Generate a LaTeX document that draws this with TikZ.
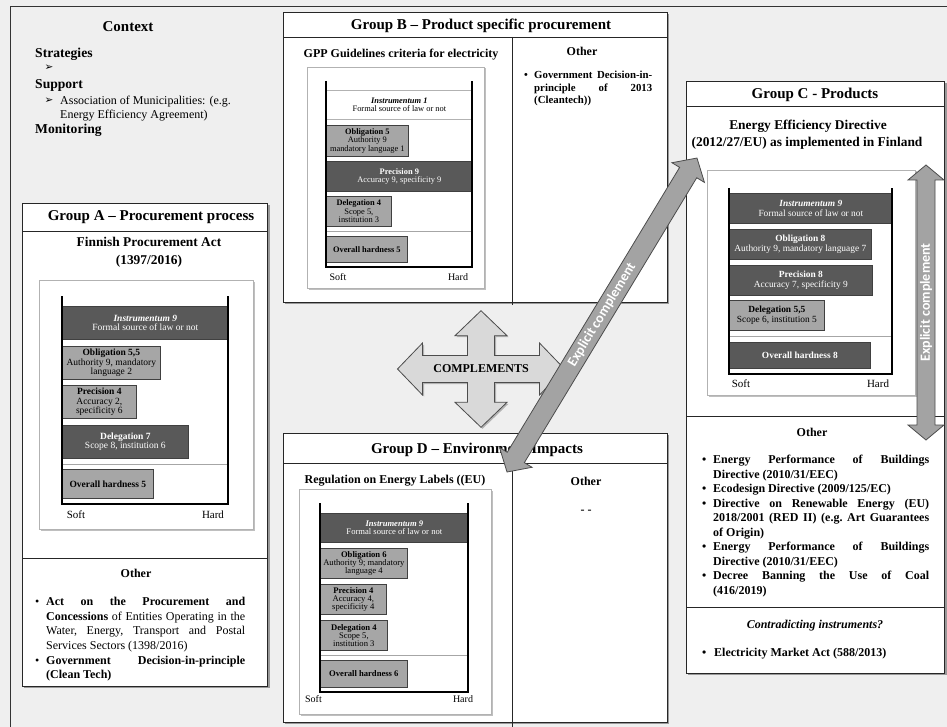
\documentclass[tikz,border=0pt]{standalone}
\usepackage{fontspec}
\setmainfont{Liberation Serif}
\newfontfamily\calib{Carlito}
\newfontfamily\djv{DejaVu Sans}
\usetikzlibrary{calc}
\definecolor{bgc}{HTML}{EFEFEF}
\definecolor{darkbar}{HTML}{595959}
\definecolor{lightbar}{HTML}{A6A6A6}
\definecolor{ecfill}{HTML}{A3A3A3}
\definecolor{cmpfill}{HTML}{D9D9D9}
\tikzset{
  every node/.append style={inner sep=0pt},
  grp/.style={draw=black!85, line width=0.9pt, fill=white},
  grpline/.style={draw=black!85, line width=0.9pt},
  shd/.style={fill=black!40},
  frm/.style={draw=black!30, line width=0.9pt, fill=white},
  frmshd/.style={fill=black!25},
  axisl/.style={draw=black, line width=1.2pt},
  sepl/.style={draw=black!35, line width=0.6pt},
  barbase/.style={anchor=north west, align=center, line width=0.7pt, draw=black!75},
  dbar/.style={barbase, fill=darkbar, text=white},
  lbar/.style={barbase, fill=lightbar, text=black},
  wbar/.style={barbase, fill=white, draw=black!30, text=black},
  chA/.style={font=\fontsize{9.5}{9.4}\selectfont},
  chB/.style={font=\fontsize{8.4}{8.4}\selectfont},
  chC/.style={font=\fontsize{9.4}{10}\selectfont},
  chD/.style={font=\fontsize{8.6}{8}\selectfont},
  gtitle/.style={anchor=base, font=\bfseries\fontsize{15}{18}\selectfont},
  subt/.style={anchor=base, font=\bfseries\fontsize{12}{14.5}\selectfont},
  subtl/.style={anchor=base, font=\bfseries\fontsize{13.4}{18}\selectfont},
  othert/.style={anchor=base, font=\bfseries\fontsize{12}{14.5}\selectfont},
  softl/.style={anchor=center, font=\fontsize{11}{12}\selectfont},
  softs/.style={anchor=center, font=\fontsize{10}{12}\selectfont},
  ctxh/.style={anchor=base west, font=\bfseries\fontsize{13.6}{16}\selectfont},
  ctxt/.style={anchor=base west, font=\fontsize{12}{14}\selectfont},
  arrb/.style={font=\djv\fontsize{10.5}{12}\selectfont},
  ecarrow/.style={fill=ecfill, draw=black!70, line width=0.8pt},
  ectext/.style={text=white, font=\calib\bfseries\fontsize{14}{16}\selectfont},
  cmparrow/.style={fill=cmpfill, draw=black!70, line width=0.8pt},
  blist/.style={anchor=north west, align=justify},
}
\newcommand\mkbar[7]{\node[#1, minimum width={#5-#3}, minimum height={#6-#4}] (#2) at (#3,#4) {#7};}
\newcommand\grpbox[4]{\fill[shd] (#1+2,#2+2) rectangle (#3+2,#4+2); \draw[grp] (#1,#2) rectangle (#3,#4);}
\newcommand\frmbox[4]{\fill[frmshd] (#1+1.5,#2+1.5) rectangle (#3+1.5,#4+1.5); \draw[frm] (#1,#2) rectangle (#3,#4);}
\newcommand\bitem[1]{\par\noindent\hangindent=11pt\hangafter=1\strut\makebox[11pt][l]{\textbullet}#1\par}
\newcommand\bitemB[1]{\par\noindent\hangindent=10pt\hangafter=1\strut\makebox[10pt][l]{\textbullet}#1\par}
\newcommand\dblarrow[5]{%
  \path let \p1=($(#2)-(#1)$), \n1={atan2(\y1,\x1)}, \n2={veclen(\x1,\y1)} in
    \pgfextra{\xdef\arrAng{\n1}\xdef\arrLen{\n2}};
  \begin{scope}[shift={(#1)}, rotate=\arrAng, x=1pt, y=1pt]
    \draw[ecarrow] (0,0) -- (#5,#4) -- (#5,#3) -- (\arrLen-#5,#3) -- (\arrLen-#5,#4) -- (\arrLen,0)
      -- (\arrLen-#5,-#4) -- (\arrLen-#5,-#3) -- (#5,-#3) -- (#5,-#4) -- cycle;
  \end{scope}}
\begin{document}
\begin{tikzpicture}[x=1pt,y=-1pt]
\useasboundingbox (0,0) rectangle (947,727);
\fill[bgc] (0,0) rectangle (947,727);
\draw[black!80, line width=1pt] (10,727) -- (10,7) -- (947,7);

% ---------------- Context
\node[anchor=base, font=\bfseries\fontsize{15}{18}\selectfont] (ctx) at (128,32) {Context};
\node[ctxh] (strat) at (35,58) {Strategies};
\node[arrb] (bul1) at (49,68) {➢};
\node[ctxh] (supp) at (35,89) {Support};
\node[arrb] (bul2) at (49,101) {➢};
\node[ctxt] (assoc) at (60,104.5) {Association of Municipalities: (e.g.};
\node[ctxt] (eea) at (60,119) {Energy Efficiency Agreement)};
\node[ctxh] (mon) at (35,133.5) {Monitoring};

% ---------------- Group A
\grpbox{22}{203}{267.5}{686}
\draw[grpline] (22,231) -- (267.5,231);
\draw[grpline] (22,558) -- (267.5,558);
\node[gtitle] (gA) at (151,221) {Group A -- Procurement process};
\node[subtl] (gAs1) at (149,246.5) {Finnish Procurement Act};
\node[subtl] (gAs2) at (149,264.5) {(1397/2016)};
\frmbox{39}{280}{253}{529}
\mkbar{dbar,chA}{a1}{62}{306}{228}{339}{\textbf{\textit{Instrumentum 9}}\\Formal source of law or not}
\mkbar{lbar,chA}{a2}{62}{346}{160}{379}{\textbf{Obligation 5,5}\\Authority 9, mandatory\\language 2}
\mkbar{lbar,chA}{a3}{62}{385}{136}{418}{\textbf{Precision 4}\\Accuracy 2,\\specificity 6}
\mkbar{dbar,chA}{a4}{62}{425}{188}{458}{\textbf{Delegation 7}\\Scope 8, institution 6}
\draw[sepl] (62,464) -- (228,464);
\mkbar{lbar,chA}{a5}{62}{469}{153}{498}{\textbf{Overall hardness 5}}
\draw[axisl] (62,296) -- (62,504) -- (228,504) -- (228,296);
\node[softl] (aSoft) at (76,515) {Soft};
\node[softl] (aHard) at (213,515) {Hard};
\node[othert] (aOth) at (136,577.5) {Other};
\node[blist, text width=210, font=\fontsize{12}{14.6}\selectfont] (aList) at (35,590.8) {%
  \tolerance=10000\frenchspacing
  \bitem{\textbf{Act on the Procurement and}\linebreak \textbf{Concessions} of Entities Operating in the\linebreak Water, Energy, Transport and Postal\linebreak Services Sectors (1398/2016)}
  \bitem{\textbf{Government Decision-in-principle}\linebreak \textbf{(Clean Tech)}}};

% ---------------- Group B
\grpbox{283}{12}{667}{302}
\draw[grpline] (283,37) -- (667,37);
\draw[grpline] (512,37) -- (512,305);
\node[gtitle] (gB) at (481,29.5) {Group B -- Product specific procurement};
\node[subt] (gBs) at (401,57.5) {GPP Guidelines criteria for electricity};
\node[othert] (bOth) at (582,56) {Other};
\frmbox{307}{67}{484}{288}
\mkbar{wbar,chB}{b1}{326}{90}{472}{119}{\textbf{\textit{Instrumentum 1}}\\Formal source of law or not}
\mkbar{lbar,chB}{b2}{326}{125}{408}{156}{\textbf{Obligation 5}\\Authority 9\\mandatory language 1}
\mkbar{dbar,chB}{b3}{326}{161}{472}{191}{\textbf{Precision 9}\\Accuracy 9, specificity 9}
\mkbar{lbar,chB}{b4}{326}{196}{391}{226}{\textbf{Delegation 4}\\Scope 5,\\institution 3}
\draw[sepl] (326,231) -- (472,231);
\mkbar{lbar,chB}{b5}{326}{236}{407}{262}{\textbf{Overall hardness 5}}
\draw[axisl] (326,81) -- (326,267) -- (472,267) -- (472,81);
\node[softs] (bSoft) at (338,277) {Soft};
\node[softs] (bHard) at (458,277) {Hard};
\node[blist, text width=128, font=\bfseries\fontsize{10.8}{12.5}\selectfont] (bList) at (524,66.3) {%
  \tolerance=10000\frenchspacing
  \bitemB{Government Decision-in-\linebreak principle of 2013\linebreak (Cleantech))}};

% ---------------- Group C
\grpbox{686}{81}{944.5}{673}
\draw[grpline] (686,106) -- (944.5,106);
\draw[grpline] (686,416) -- (944.5,416);
\draw[grpline] (686,607) -- (944.5,607);
\node[gtitle] (gC) at (815,99) {Group C - Products};
\node[subtl] (gCs1) at (808,130) {Energy Efficiency Directive};
\node[subtl] (gCs2) at (807,146.7) {(2012/27/EU) as implemented in Finland};
\frmbox{707}{170}{915}{395}
\mkbar{dbar,chC}{c1}{729}{193}{892}{223}{\textbf{\textit{Instrumentum 9}}\\Formal source of law or not}
\mkbar{dbar,chC}{c2}{729}{229}{871}{259}{\textbf{Obligation 8}\\Authority 9, mandatory language 7}
\mkbar{dbar,chC}{c3}{729}{265}{872}{295}{\textbf{Precision 8}\\Accuracy 7, specificity 9}
\mkbar{lbar,chC}{c4}{729}{300}{824}{330}{\textbf{Delegation 5,5}\\Scope 6, institution 5}
\draw[sepl] (729,336) -- (892,336);
\mkbar{dbar,chC}{c5}{729}{342}{870}{368}{\textbf{Overall hardness 8}}
\draw[axisl] (729,188) -- (729,374) -- (892,374) -- (892,188);
\node[softl] (cSoft) at (741,384) {Soft};
\node[softl] (cHard) at (878,384) {Hard};
\node[othert] (cOth) at (812,436) {Other};
\node[blist, text width=227, font=\bfseries\fontsize{12}{14.5}\selectfont] (cList) at (702,448.8) {%
  \tolerance=10000\frenchspacing
  \bitem{Energy Performance of Buildings\linebreak Directive (2010/31/EEC)}
  \bitem{Ecodesign Directive (2009/125/EC)}
  \bitem{Directive on Renewable Energy (EU)\linebreak 2018/2001 (RED II) (e.g. Art Guarantees\linebreak of Origin)}
  \bitem{Energy Performance of Buildings\linebreak Directive (2010/31/EEC)}
  \bitem{Decree Banning the Use of Coal\linebreak (416/2019)}};
\node[anchor=base, font=\bfseries\itshape\fontsize{12}{14.5}\selectfont] (cContra) at (815,628.3) {Contradicting instruments?};
\node[anchor=base west, font=\bfseries\fontsize{12}{14.5}\selectfont] (cElec) at (702,656.7) {\makebox[12pt][l]{\textbullet}Electricity Market Act (588/2013)};

% ---------------- Group D
\grpbox{283}{433}{667}{722}
\draw[grpline] (283,463) -- (667,463);
\draw[grpline] (512,463) -- (512,727);
\node[gtitle] (gD) at (477,453) {Group D -- Environment Impacts};
\node[subt] (gDs) at (395,483.5) {Regulation on Energy Labels ((EU)};
\node[othert] (dOth) at (586,485) {Other};
\node[anchor=center, font=\bfseries\fontsize{12}{14}\selectfont] (dDash) at (586,512) {- -};
\frmbox{299}{489}{491}{714}
\mkbar{dbar,chD}{d1}{320}{513}{468}{542}{\textbf{\textit{Instrumentum 9}}\\Formal source of law or not}
\mkbar{lbar,chD}{d2}{320}{548}{407}{578}{\textbf{Obligation 6}\\Authority 9; mandatory\\language 4}
\mkbar{lbar,chD}{d3}{320}{584}{386}{614}{\textbf{Precision 4}\\Accuracy 4,\\specificity 4}
\mkbar{lbar,chD}{d4}{320}{620}{387}{650}{\textbf{Delegation 4}\\Scope 5,\\institution 3}
\draw[sepl] (320,655) -- (468,655);
\mkbar{lbar,chD}{d5}{320}{660}{407}{687}{\textbf{Overall hardness 6}}
\draw[axisl] (320,503) -- (320,692) -- (468,692) -- (468,503);
\node[softs] (dSoft) at (313.5,699.5) {Soft};
\node[softs] (dHard) at (463,699.5) {Hard};

% ---------------- COMPLEMENTS four-way arrow
\coordinate (cmpc) at (481,369);
\begin{scope}[shift={(cmpc)}]
  \def\ca{83.5}\def\cb{58.3}\def\cL{25}\def\ch{26}\def\cs{13.5}
  \fill[black!30, shift={(1.5,1.5)}] (0,-\cb) -- (\ch,-\cb+\cL) -- (\cs,-\cb+\cL) -- (\cs,-\cs) -- (\ca-\cL,-\cs) -- (\ca-\cL,-\ch) -- (\ca,0)
    -- (\ca-\cL,\ch) -- (\ca-\cL,\cs) -- (\cs,\cs) -- (\cs,\cb-\cL) -- (\ch,\cb-\cL) -- (0,\cb)
    -- (-\ch,\cb-\cL) -- (-\cs,\cb-\cL) -- (-\cs,\cs) -- (-\ca+\cL,\cs) -- (-\ca+\cL,\ch) -- (-\ca,0)
    -- (-\ca+\cL,-\ch) -- (-\ca+\cL,-\cs) -- (-\cs,-\cs) -- (-\cs,-\cb+\cL) -- (-\ch,-\cb+\cL) -- cycle;
  \draw[cmparrow] (0,-\cb) -- (\ch,-\cb+\cL) -- (\cs,-\cb+\cL) -- (\cs,-\cs) -- (\ca-\cL,-\cs) -- (\ca-\cL,-\ch) -- (\ca,0)
    -- (\ca-\cL,\ch) -- (\ca-\cL,\cs) -- (\cs,\cs) -- (\cs,\cb-\cL) -- (\ch,\cb-\cL) -- (0,\cb)
    -- (-\ch,\cb-\cL) -- (-\cs,\cb-\cL) -- (-\cs,\cs) -- (-\ca+\cL,\cs) -- (-\ca+\cL,\ch) -- (-\ca,0)
    -- (-\ca+\cL,-\ch) -- (-\ca+\cL,-\cs) -- (-\cs,-\cs) -- (-\cs,-\cb+\cL) -- (-\ch,-\cb+\cL) -- cycle;
\end{scope}
\node[font=\bfseries\fontsize{12}{14}\selectfont] (cmp) at (cmpc) {COMPLEMENTS};

% ---------------- Explicit complement arrows
\coordinate (ec1a) at (507,472);
\coordinate (ec1b) at (697,158);
\dblarrow{ec1a}{ec1b}{10}{19}{17}
\node[ectext, rotate=\arrAng] (ec1t) at ($(ec1a)!0.5!(ec1b)$) {Explicit complement};
\coordinate (ec2a) at (926,440);
\coordinate (ec2b) at (926,165);
\dblarrow{ec2a}{ec2b}{9}{18}{15}
\node[ectext, rotate=\arrAng] (ec2t) at ($(ec2a)!0.5!(ec2b)$) {Explicit complement};
\end{tikzpicture}
\end{document}
